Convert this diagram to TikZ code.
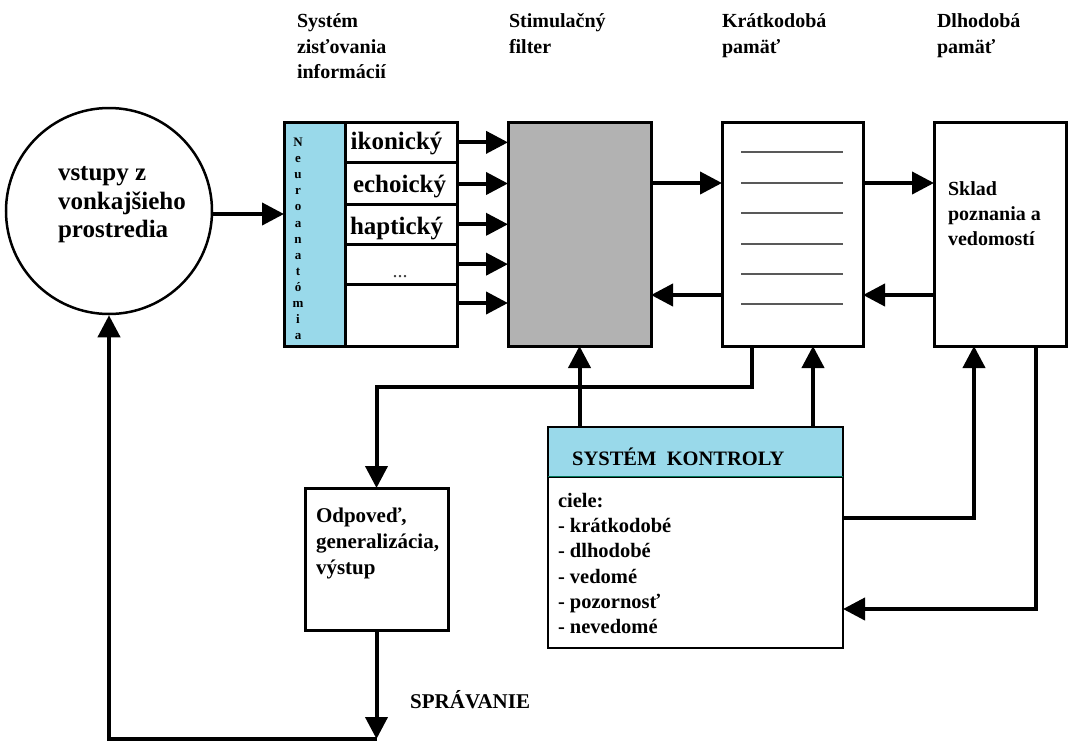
\documentclass[tikz,border=0pt]{standalone}
\usepackage{fontspec}
\setmainfont{Liberation Serif}
\usetikzlibrary{arrows.meta}
\definecolor{cyanc}{RGB}{153,217,234}
\definecolor{grayc}{RGB}{178,178,178}
\definecolor{tealc}{RGB}{0,120,90}
\newcommand\myfs[2]{\fontsize{#1}{#2}\selectfont\bfseries}
\begin{document}
\begin{tikzpicture}[x=1pt,y=-1pt,
  box/.style={draw, line width=3pt, anchor=north west, inner sep=0pt, outer sep=0pt},
  arr/.style={line width=4pt, -{Triangle[length=22pt,width=22pt]}},
  txt/.style={inner sep=0pt, outer sep=0pt, anchor=north west, align=left},
  lbl/.style={inner sep=0pt, outer sep=0pt, anchor=base west, font=\myfs{25}{28}},
  memline/.style={line width=1.2pt, gray!70!black}]
\useasboundingbox (0,0) rectangle (1068,742);

% headers
\node[txt, font=\myfs{20}{25.5}] (h1) at (297,9.65) {\strut Systém\\zisťovania\\informácií};
\node[txt, font=\myfs{20}{25.5}] (h2) at (509,9.65) {\strut Stimulačný\\filter};
\node[txt, font=\myfs{20}{25.5}] (h3) at (722,9.65) {\strut Krátkodobá\\pamäť};
\node[txt, font=\myfs{20}{25.5}] (h4) at (937,9.65) {\strut Dlhodobá\\pamäť};

% circle
\node[draw, circle, line width=2.5pt, minimum size=206pt, inner sep=0pt] (c) at (109,211) {};
\node[txt, font=\myfs{25}{28.5}] (ct) at (58,161) {\strut vstupy z\\vonkajšieho\\prostredia};

% sensory system
\node[box, fill=cyanc, minimum width=61pt, minimum height=224pt] (neuro) at (284,122) {};
\node[txt, align=center, anchor=north, font=\myfs{13}{16.1}] (nt) at (298,135.3)
  {\strut N\\e\\u\\r\\o\\a\\n\\a\\t\\ó\\m\\i\\a};
\node[box, minimum width=112pt, minimum height=40.7pt] (r1) at (345,122) {};
\node[box, minimum width=112pt, minimum height=41.6pt] (r2) at (345,162.7) {};
\node[box, minimum width=112pt, minimum height=40pt] (r3) at (345,204.3) {};
\node[box, minimum width=112pt, minimum height=39.7pt] (r4) at (345,244.3) {};
\node[box, minimum width=112pt, minimum height=62pt] (r5) at (345,284) {};
\node[lbl] (l1) at (350.7,149.3) {ikonický};
\node[lbl] (l2) at (353,192.7) {echoický};
\node[lbl] (l3) at (350,234) {haptický};
\node[inner sep=0pt, anchor=base, text=black!75, font=\fontsize{20}{20}\selectfont] (l4) at (400,277) {...};

% filter
\node[box, fill=grayc, minimum width=143pt, minimum height=224pt] (filter) at (508,122) {};

% short-term memory
\node[box, minimum width=141pt, minimum height=224pt] (kr) at (722,122) {};
\foreach \yy in {152,183,213,244,274,304} \draw[memline] (741,\yy) -- (843,\yy);

% long-term memory
\node[box, minimum width=132pt, minimum height=224pt] (dl) at (934,122) {};
\node[txt, font=\myfs{20}{25}] (dt) at (948,177.5) {\strut Sklad\\poznania a\\vedomostí};

% response
\node[box, minimum width=143pt, minimum height=142pt] (odp) at (305,488) {};
\node[txt, font=\myfs{21}{26}] (ot) at (316,503.8) {\strut Odpoveď,\\generalizácia,\\výstup};
\node[inner sep=0pt, anchor=base west, font=\myfs{21}{26}] (spr) at (410,708) {SPRÁVANIE};

% control system
\node[box, line width=2pt, fill=cyanc, minimum width=295pt, minimum height=50pt] (konh) at (548,427) {};
\node[box, line width=2pt, minimum width=295pt, minimum height=171pt] (konb) at (548,477) {};
\draw[tealc, line width=1.2pt] ([yshift=0.8pt]konh.south west) -- ([yshift=0.8pt]konh.south east);
\node[inner sep=0pt, anchor=base west, font=\myfs{20.5}{25}] (kt) at (572,465) {SYSTÉM~~KONTROLY};
\node[txt, font=\myfs{20.5}{25.2}] (kb) at (558,489.9)
  {\strut ciele:\\- krátkodobé\\- dlhodobé\\- vedomé\\- pozornosť\\- nevedomé};

% coordinates
\coordinate (ca) at ([yshift=-3pt]c.east);
\coordinate (y183) at (0,183);
\coordinate (y295) at (0,295);
\coordinate (r5a) at ([yshift=12pt]r5.east);
\coordinate (t1) at (752,387);
\coordinate (ux) at (813,0);
\coordinate (t2) at (974,518);
\coordinate (t3) at (1036,609);
\coordinate (b1) at (0,739);

% connectors
\draw[arr] (ca) -- (ca -| neuro.west);
\foreach \r in {r1,r2,r3,r4} \draw[arr] (\r.east) -- (\r.east -| filter.west);
\draw[arr] (r5a) -- (r5a -| filter.west);
\draw[arr] (filter.east |- y183) -- (kr.west |- y183);
\draw[arr] (kr.west |- y295) -- (filter.east |- y295);
\draw[arr] (kr.east |- y183) -- (dl.west |- y183);
\draw[arr] (dl.west |- y295) -- (kr.east |- y295);
\draw[arr] (kr.south -| t1) -- (t1) -| (odp.north);
\draw[arr] (konh.north -| filter.south) -- (filter.south);
\draw[arr] (konh.north -| ux) -- (kr.south -| ux);
\draw[arr] (konb.east |- t2) -- (t2) -- (dl.south -| t2);
\draw[arr] (dl.south -| t3) -- (t3) -- (konb.east |- t3);
\draw[arr] (odp.south) -- (odp.south |- b1);
\draw[arr] (odp.south |- b1) -| (c.south);
\end{tikzpicture}
\end{document}
